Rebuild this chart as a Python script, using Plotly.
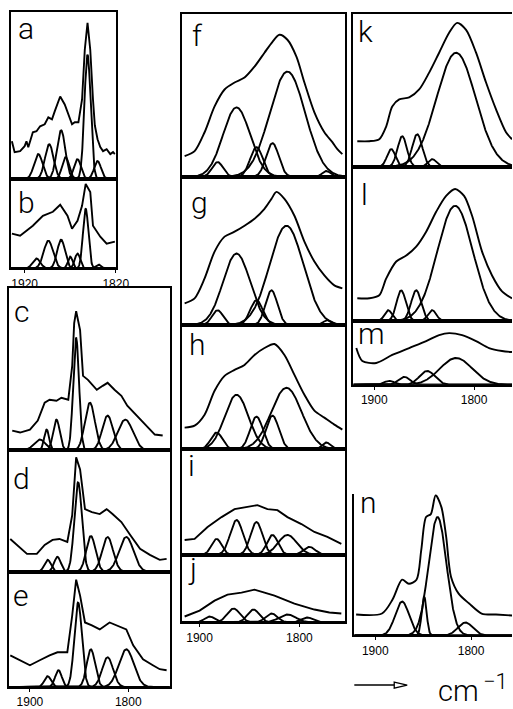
import numpy as np
import plotly.graph_objects as go

# ---------------- data ----------------
tick_ab = [1920, 1820]
tick_std = [1900, 1800]

a_env_wn = [1934, 1931, 1925, 1920, 1918, 1916, 1911, 1907, 1903, 1898, 1894, 1890, 1887, 1881, 1876, 1872,
            1868, 1865, 1861, 1857, 1854, 1851, 1848, 1845, 1843, 1840, 1837, 1834, 1830, 1826, 1823, 1821]
a_env_y = [38, 27, 28, 33, 38, 32, 47, 48, 53, 55, 62, 60, 68, 83, 75, 65,
           55, 57, 57, 80, 130, 157, 130, 80, 54, 40, 32, 28, 30, 25, 27, 25]
a_comp_c = [1905, 1893, 1880, 1875, 1862, 1851, 1840]
a_comp_h = [25, 35, 49, 22, 20, 125, 18]
a_comp_w = [11, 11, 11, 9, 9, 8, 9]

b_env_wn = [1934, 1925, 1911, 1900, 1889, 1881, 1873, 1868, 1862, 1857, 1853, 1848, 1845, 1837, 1830, 1821]
b_env_y = [35, 33, 43, 53, 57, 64, 53, 40, 48, 63, 85, 77, 43, 32, 25, 27]
b_comp_c = [1907, 1894, 1880, 1870, 1862, 1853, 1839]
b_comp_h = [10, 28, 29, 12, 15, 60, 4]
b_comp_w = [10, 12, 10, 6, 7, 7, 7]

c_env_wn = [1918, 1910, 1900, 1892, 1885, 1880, 1873, 1868, 1861, 1857, 1855, 1853, 1849, 1846, 1841, 1832,
            1826, 1821, 1814, 1807, 1801, 1791, 1781, 1773, 1765]
c_env_y = [20, 18, 21, 30, 48, 51, 50, 53, 51, 85, 128, 140, 121, 75, 71, 61,
           65, 68, 61, 55, 45, 35, 25, 16, 15]
c_comp_c = [1890, 1883, 1873, 1853, 1839, 1821, 1803]
c_comp_h = [11, 21, 31, 113, 48, 35, 31]
c_comp_w = [14, 6, 8, 7, 12, 13, 18]

d_env_wn = [1920, 1913, 1903, 1893, 1885, 1877, 1870, 1862, 1857, 1853, 1849, 1844, 1837, 1829, 1822, 1816,
            1807, 1798, 1788, 1778, 1768, 1761]
d_env_y = [33, 27, 18, 18, 27, 32, 33, 30, 57, 115, 103, 63, 60, 58, 63, 58,
           50, 37, 23, 17, 12, 13]
d_comp_c = [1882, 1872, 1851, 1838, 1821, 1802]
d_comp_h = [12, 15, 90, 36, 35, 35]
d_comp_w = [8, 8, 9, 11, 13, 17]

e_env_wn = [1920, 1910, 1900, 1890, 1880, 1872, 1862, 1857, 1853, 1849, 1844, 1837, 1829, 1819, 1811, 1802,
            1795, 1785, 1775, 1768, 1761]
e_env_y = [32, 27, 22, 27, 32, 35, 35, 72, 108, 92, 65, 62, 58, 65, 62, 58,
           42, 28, 22, 18, 17]
e_comp_c = [1882, 1871, 1851, 1838, 1821, 1802]
e_comp_h = [11, 17, 85, 38, 30, 38]
e_comp_w = [8, 8, 9, 10, 13, 18]

f_env_wn = [1915, 1905, 1895, 1885, 1875, 1865, 1855, 1845, 1835, 1827, 1820, 1812, 1803, 1795, 1785, 1775,
            1767, 1762, 1757]
f_env_y = [21, 26, 45, 71, 88, 95, 100, 111, 125, 136, 143, 138, 121, 95, 65, 45, 35, 28, 23]
f_comp_c = [1882, 1863, 1843, 1827, 1812, 1773]
f_comp_h = [15, 70, 30, 34, 106, 6]
f_comp_w = [13, 32, 15, 15, 42, 10]

g_env_wn = [1915, 1905, 1895, 1885, 1875, 1865, 1855, 1845, 1835, 1828, 1823, 1815, 1805, 1795, 1785, 1775,
            1765, 1757]
g_env_y = [22, 27, 47, 74, 89, 94, 100, 107, 117, 127, 134, 127, 110, 84, 64, 50, 40, 37]
g_comp_c = [1882, 1863, 1843, 1828, 1813, 1772]
g_comp_h = [15, 72, 25, 35, 100, 5]
g_comp_w = [13, 32, 15, 14, 40, 10]

h_env_wn = [1915, 1905, 1895, 1885, 1875, 1865, 1855, 1845, 1835, 1825, 1815, 1805, 1795, 1785, 1775, 1765, 1757]
h_env_y = [22, 24, 35, 59, 74, 80, 85, 95, 102, 106, 95, 75, 55, 39, 32, 25, 20]
h_comp_c = [1883, 1863, 1843, 1827, 1813, 1773]
h_comp_h = [17, 55, 33, 34, 62, 7]
h_comp_w = [14, 28, 15, 15, 36, 10]

i_env_wn = [1915, 1905, 1892, 1878, 1865, 1852, 1842, 1832, 1822, 1812, 1798, 1785, 1772, 1758]
i_env_y = [15, 16, 28, 38, 46, 48, 50, 46, 45, 38, 31, 23, 18, 11]
i_comp_c = [1883, 1863, 1843, 1827, 1812, 1790]
i_comp_h = [16, 35, 33, 20, 20, 8]
i_comp_w = [12, 15, 14, 13, 22, 14]

j_env_wn = [1915, 1900, 1885, 1872, 1858, 1845, 1835, 1825, 1815, 1805, 1795, 1785, 1770, 1758]
j_env_y = [6, 12, 22, 28, 30, 33, 30, 27, 23, 19, 16, 13, 10, 9]
j_comp_c = [1890, 1866, 1846, 1828, 1812, 1792]
j_comp_h = [6, 14, 13, 9, 8, 5]
j_comp_w = [12, 15, 14, 14, 20, 14]

k_env_wn = [1917, 1905, 1895, 1888, 1882, 1875, 1865, 1855, 1845, 1835, 1825, 1817, 1808, 1798, 1788, 1778,
            1768, 1762]
k_env_y = [26, 26, 28, 41, 61, 68, 70, 78, 95, 115, 135, 145, 138, 115, 85, 58, 35, 28]
k_comp_c = [1883, 1872, 1857, 1842, 1818]
k_comp_h = [18, 31, 33, 8, 115]
k_comp_w = [10, 11, 12, 10, 46]

l_env_wn = [1917, 1905, 1895, 1888, 1878, 1868, 1858, 1848, 1838, 1828, 1819, 1810, 1802, 1792, 1782, 1772, 1762]
l_env_y = [23, 23, 26, 43, 60, 66, 75, 90, 110, 126, 133, 126, 106, 70, 46, 30, 23]
l_comp_c = [1886, 1873, 1858, 1842, 1819]
l_comp_h = [11, 31, 31, 11, 116]
l_comp_w = [9, 11, 12, 10, 42]

m_env_wn = [1918, 1912, 1898, 1882, 1865, 1848, 1835, 1825, 1812, 1798, 1785, 1772, 1762]
m_env_y = [37, 24, 22, 30, 37, 44, 50, 52, 50, 44, 37, 34, 33]
m_comp_c = [1885, 1870, 1847, 1818]
m_comp_h = [4, 8, 14, 27]
m_comp_w = [12, 14, 18, 38]

n_env_wn = [1920, 1893, 1882, 1872, 1865, 1857, 1852, 1847, 1842, 1837, 1831, 1826, 1821, 1813, 1802, 1789,
            1774, 1757]
n_env_y = [21, 22, 36, 56, 52, 56, 86, 119, 122, 141, 129, 99, 59, 42, 32, 22, 21, 20]
n_comp_c = [1872, 1849, 1835, 1806]
n_comp_h = [34, 39, 119, 13]
n_comp_w = [17, 6, 22, 18]

# ---------------- layout (positions in pixels of the 513x709 picture) ----------------
W, H = 513, 709
FIG_W, FIG_H = 526, 709
# name: x0, x1, y0(top), y1(bottom), wn_left, wn_right, border style, ticks, smooth
panels = {
    "a": (11, 116, 12, 180, 1935.0, 1820.0, "box", None, False),
    "b": (11, 116, 180, 270, 1935.0, 1820.0, "box", tick_ab, False),
    "c": (9, 170, 290, 453, 1921.3, 1757.9, "box", None, False),
    "d": (9, 170, 453, 575, 1921.3, 1757.9, "box", None, False),
    "e": (9, 170, 575, 691, 1921.3, 1757.9, "box", tick_std, False),
    "f": (182, 346, 14, 178, 1918.0, 1754.0, "box", None, True),
    "g": (182, 346, 178, 327, 1918.0, 1754.0, "box", None, True),
    "h": (182, 346, 327, 452, 1918.0, 1754.0, "box", None, True),
    "i": (182, 346, 452, 558, 1918.0, 1754.0, "box", None, False),
    "j": (182, 346, 558, 626, 1918.0, 1754.0, "box", tick_std, False),
    "k": (354, 513, 14, 168, 1921.0, 1762.0, "open", None, True),
    "l": (354, 513, 168, 323, 1921.0, 1762.0, "open", None, True),
    "m": (354, 513, 323, 387, 1921.0, 1762.0, "open", tick_std, True),
    "n": (355, 513, 497, 639, 1921.9, 1757.3, "corner", tick_std, True),
}
label_pos = {
    "a": (16, 40), "b": (16, 215), "c": (12, 325), "d": (11, 493), "e": (11, 610),
    "f": (190, 47), "g": (189, 215), "h": (187, 358), "i": (186, 480), "j": (186, 583),
    "k": (357, 43), "l": (360, 207), "m": (357, 347), "n": (359, 517),
}

data = {p: (globals()[p + "_env_wn"], globals()[p + "_env_y"], globals()[p + "_comp_c"],
            globals()[p + "_comp_h"], globals()[p + "_comp_w"]) for p in panels}

fig = go.Figure()
layout = dict(width=FIG_W, height=FIG_H, margin=dict(l=0, r=0, t=0, b=0),
              paper_bgcolor="white", plot_bgcolor="rgba(0,0,0,0)", showlegend=False)
LW = 1.9
FRAME = 1.7
for idx, (name, (x0, x1, y0, y1, wl, wr, border, ticks, smooth)) in enumerate(panels.items(), start=1):
    xs = "x" if idx == 1 else f"x{idx}"
    ys = "y" if idx == 1 else f"y{idx}"
    xk = "xaxis" if idx == 1 else f"xaxis{idx}"
    yk = "yaxis" if idx == 1 else f"yaxis{idx}"
    ph = y1 - y0
    env_x, env_y, cc, chh, cw = data[name]
    grid = np.linspace(wl, wr, 500)
    for c, hh, w in zip(cc, chh, cw):
        s = w / 2.3548
        yy = hh * np.exp(-0.5 * ((grid - c) / s) ** 2)
        fig.add_trace(go.Scatter(x=grid, y=yy, mode="lines", xaxis=xs, yaxis=ys,
                                 line=dict(color="black", width=LW), hoverinfo="skip"))
    fig.add_trace(go.Scatter(x=env_x, y=env_y, mode="lines", xaxis=xs, yaxis=ys,
                             line=dict(color="black", width=LW,
                                       shape="spline" if smooth else "linear", smoothing=0.8),
                             hoverinfo="skip"))
    xa = dict(domain=[x0 / W, min(x1 / W, 1.0)], range=[wl, wr], anchor=ys, showgrid=False, zeroline=False,
              showline=True, linecolor="black", linewidth=FRAME,
              mirror=(border in ("box", "open")))
    if ticks:
        xa.update(tickmode="array", tickvals=ticks, ticktext=[str(t) for t in ticks],
                  ticks="outside", ticklen=3, tickwidth=1.3, tickcolor="black",
                  tickfont=dict(family="Liberation Sans, Arial, sans-serif", size=12, color="black"))
    else:
        xa.update(showticklabels=False, ticks="")
    ya = dict(domain=[1 - y1 / H, 1 - y0 / H], range=[0, ph], anchor=xs, showgrid=False, zeroline=False,
              showline=True, linecolor="black", linewidth=FRAME,
              mirror=(border == "box"), showticklabels=False, ticks="")
    layout[xk] = xa
    layout[yk] = ya

LABEL_FONT = "Roboto Light, Roboto, Liberation Sans Narrow, DejaVu Sans Condensed, sans-serif"
annotations = []
LF = 30
for name, (lx, base) in label_pos.items():
    annotations.append(dict(text=name, x=lx / W, y=1 - (base + 8) / H, xref="paper", yref="paper",
                            xanchor="left", yanchor="bottom", showarrow=False,
                            font=dict(family=LABEL_FONT, size=LF, color="black", weight=300)))
annotations.append(dict(text="cm", x=437 / W, y=1 - (707 + 7) / H, xref="paper", yref="paper",
                        xanchor="left", yanchor="bottom", showarrow=False,
                        font=dict(family=LABEL_FONT, size=29, color="black", weight=300)))
annotations.append(dict(text="−1", x=482 / W, y=1 - (694 + 6) / H, xref="paper", yref="paper",
                        xanchor="left", yanchor="bottom", showarrow=False,
                        font=dict(family=LABEL_FONT, size=22, color="black", weight=300)))
layout["annotations"] = annotations

# arrow "-->" (decoration)
shapes = [
    dict(type="line", xref="paper", yref="paper", x0=355 / W, x1=398 / W, y0=1 - 689 / H, y1=1 - 689 / H,
         line=dict(color="black", width=1.5)),
    dict(type="path", xref="paper", yref="paper",
         path=f"M {395 / W} {1 - 686 / H} L {408 / W} {1 - 689 / H} L {395 / W} {1 - 692 / H} Z",
         line=dict(color="black", width=1.3), fillcolor="white"),
]
layout["shapes"] = shapes
fig.update_layout(**layout)

fit_script = (
    "document.documentElement.style.margin='0';"
    "document.body.style.margin='0';document.body.style.padding='0';"
    "document.documentElement.style.overflow='hidden';document.body.style.overflow='hidden';"
)
fig.write_html("out.html", config={"displayModeBar": False}, post_script=fit_script)
